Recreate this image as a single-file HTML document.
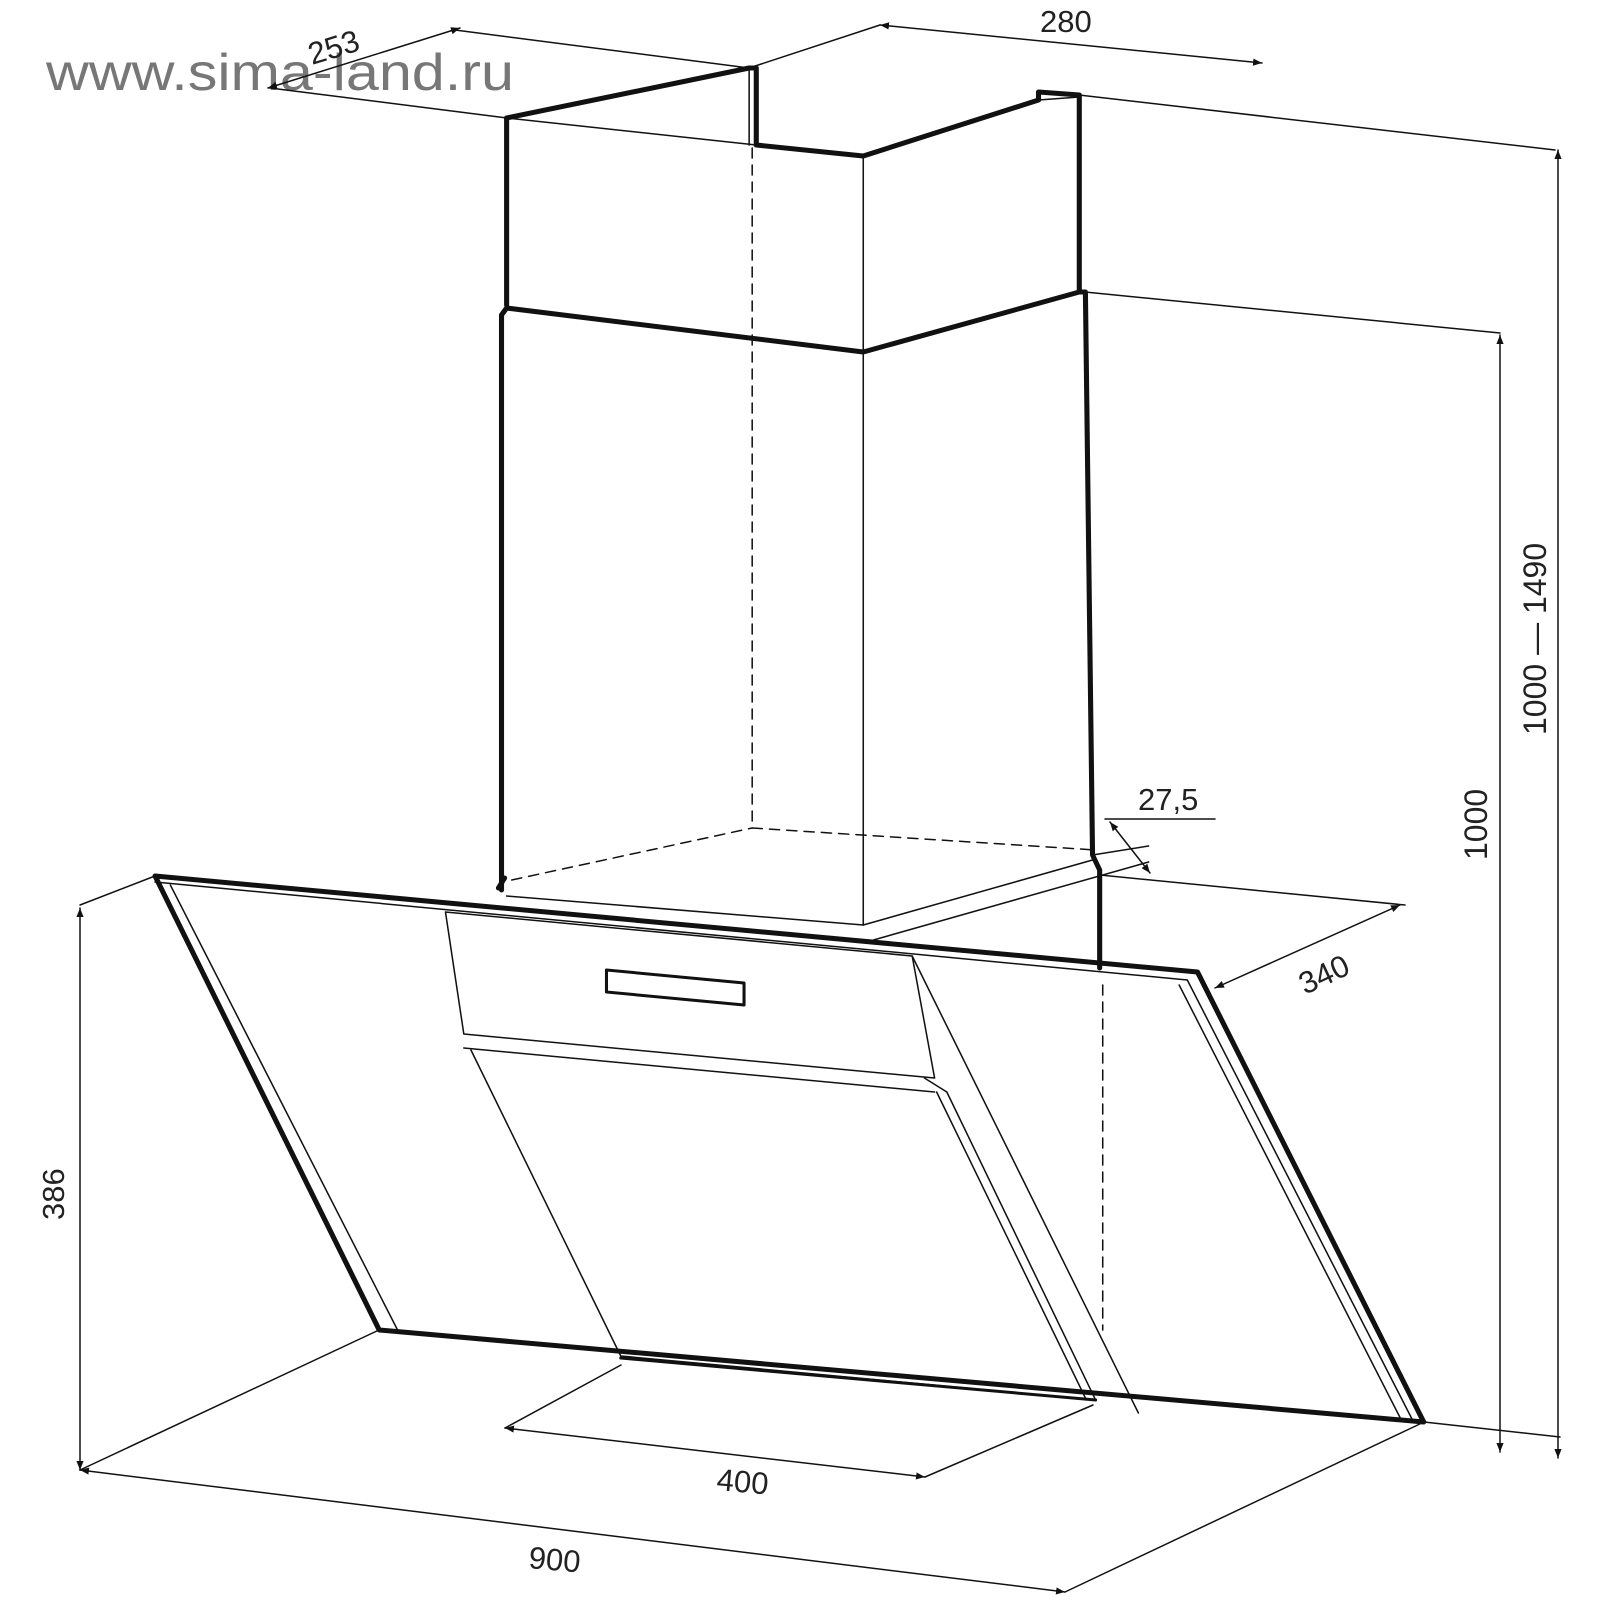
<!DOCTYPE html>
<html><head><meta charset="utf-8"><style>
html,body{margin:0;padding:0;background:#fff;}
svg{display:block;}
text{font-family:"Liberation Sans",sans-serif;fill:#222;}
</style></head><body>
<svg width="1600" height="1600" viewBox="0 0 1600 1600" xmlns="http://www.w3.org/2000/svg">
<defs>
<marker id="a" viewBox="0 0 10 10" refX="10" refY="5" markerWidth="9" markerHeight="9" orient="auto-start-reverse" markerUnits="userSpaceOnUse"><path d="M0,1 L10,5 L0,9 z" fill="#111"/></marker>
</defs>
<text x="46" y="90" font-size="52" textLength="468" lengthAdjust="spacingAndGlyphs" style="fill:#777">www.sima-land.ru</text>
<g fill="none" stroke="#111" stroke-linecap="round" stroke-linejoin="round">
<g transform="translate(152,0) scale(1.019,1) translate(-152,0)">
<!-- upper chimney -->
<polyline stroke-width="5" points="500,305 500,118 738,68 745,68 745,145 850,156 1022,100 1022,92 1062,95 1062,290"/>
<g stroke-width="1.5">
<line x1="500" y1="118" x2="745" y2="145"/>
<line x1="738" y1="70" x2="738" y2="145"/>
<line x1="850" y1="156" x2="850" y2="925"/>
<line x1="1022" y1="100" x2="1062" y2="97"/>
</g>
<!-- lower chimney -->
<g stroke-width="5">
<polyline points="495,890 495,315 500,308 850,352 1062,292 1068,292 1075,855 1082,870 1082,968"/>
<polyline points="492,888 498,878"/>
</g>
<g stroke-width="1.5">
<line x1="500" y1="896" x2="850" y2="925"/>
<line x1="850" y1="925" x2="1075" y2="860"/>
<line x1="860" y1="940" x2="1130" y2="862"/>
<line x1="1075" y1="855" x2="1130" y2="846"/>
</g>
<g stroke-width="1.5" stroke-dasharray="10,7">
<line x1="741" y1="148" x2="741" y2="828"/>
<line x1="505" y1="880" x2="741" y2="828"/>
<line x1="741" y1="828" x2="1078" y2="850"/>
<line x1="1085" y1="985" x2="1085" y2="1330"/>
</g>
<!-- hood -->
<polygon points="155,876 1178,972 1400,1422 375,1330" stroke-width="5"/>
<g stroke-width="1.5">
<line x1="170" y1="885" x2="393" y2="1330"/>
<line x1="155" y1="882" x2="1168" y2="980"/>
<line x1="1168" y1="980" x2="1390" y2="1422"/>
<line x1="1160" y1="985" x2="1378" y2="1420"/>
<polygon points="440,912 898,956 920,1078 458,1034"/>
<polygon points="598,970 733,983 733,1005 598,992" stroke-width="3"/>
<line x1="458" y1="1048" x2="920" y2="1092"/>
<polyline points="465,1050 612,1356 1078,1400 932,1092"/>
<line x1="922" y1="1092" x2="1068" y2="1398"/>
<line x1="898" y1="956" x2="1120" y2="1413"/>
<line x1="910" y1="1078" x2="932" y2="1092"/>
</g>
<line x1="612" y1="1358" x2="1078" y2="1400" stroke-width="3"/>
</g>
<!-- dimension extension lines -->
<g stroke-width="1.5">
<line x1="507" y1="118" x2="270" y2="88"/>
<line x1="749" y1="68" x2="455" y2="30"/>
<line x1="749" y1="68" x2="880" y2="25"/>
<line x1="1079" y1="95" x2="1555" y2="150"/>
<line x1="1085" y1="292" x2="1500" y2="333"/>
<line x1="1100" y1="875" x2="1405" y2="905"/>
<line x1="1424" y1="1422" x2="1560" y2="1437"/>
<line x1="155" y1="876" x2="80" y2="905"/>
<line x1="379" y1="1330" x2="80" y2="1470"/>
<line x1="1424" y1="1422" x2="1065" y2="1592"/>
<line x1="621" y1="1365" x2="505" y2="1428"/>
<line x1="1093" y1="1405" x2="925" y2="1477"/>
<line x1="1105" y1="819" x2="1215" y2="819"/>
</g>
<!-- dimension lines -->
<g stroke-width="1.5" marker-start="url(#a)" marker-end="url(#a)">
<line x1="268" y1="88" x2="460" y2="28"/>
<line x1="880" y1="25" x2="1262" y2="63"/>
<line x1="1558" y1="150" x2="1558" y2="1458"/>
<line x1="1500" y1="335" x2="1500" y2="1452"/>
<line x1="80" y1="908" x2="80" y2="1470"/>
<line x1="80" y1="1470" x2="1065" y2="1592"/>
<line x1="505" y1="1428" x2="925" y2="1477"/>
<line x1="1215" y1="988" x2="1400" y2="905"/>
</g>
<line x1="1110" y1="822" x2="1150" y2="873" stroke-width="1.5" marker-start="url(#a)" marker-end="url(#a)"/>
</g>
<!-- labels -->
<text x="0" y="0" font-size="31" transform="translate(312,65) rotate(-17)">253</text>
<text x="1040" y="32" font-size="31">280</text>
<text x="0" y="0" font-size="32" transform="translate(1546,735) rotate(-90)">1000 — 1490</text>
<text x="0" y="0" font-size="32" transform="translate(1487,860) rotate(-90)">1000</text>
<text x="1138" y="810" font-size="31">27,5</text>
<text x="0" y="0" font-size="31" transform="translate(1305,995) rotate(-25)">340</text>
<text x="0" y="0" font-size="31" transform="translate(64,1220) rotate(-90)">386</text>
<text x="0" y="0" font-size="31" transform="translate(716,1490) rotate(5)">400</text>
<text x="0" y="0" font-size="31" transform="translate(528,1568) rotate(5)">900</text>
</svg>
</body></html>
